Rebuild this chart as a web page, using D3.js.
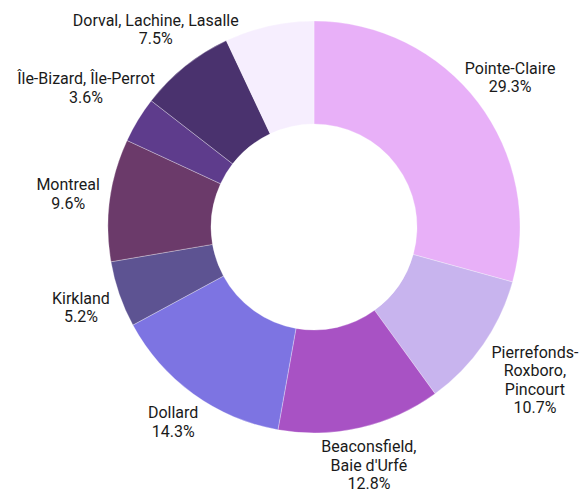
<!DOCTYPE html>
<html><head><meta charset="utf-8">
<script src="https://cdn.jsdelivr.net/npm/d3@7"></script>
<style>html,body{margin:0;padding:0;background:#fff;} svg{display:block;font-family:Roboto, "Noto Sans", sans-serif;}</style>
</head><body><svg id="chart" width="582" height="491"></svg>
<script>
const categories = ["Pointe-Claire", "Pierrefonds-\nRoxboro,\nPincourt", "Beaconsfield,\nBaie d'Urfé", "Dollard", "Kirkland", "Montreal", "Île-Bizard, Île-Perrot", "Dorval, Lachine, Lasalle", ""];
const values = [29.3, 10.7, 12.8, 14.3, 5.2, 9.6, 3.6, 7.5, 7.0];
const colors = ["#e8b0f8", "#c8b4ee", "#a852c4", "#7d74e2", "#5d5392", "#6b3a6a", "#5e3c8c", "#4a326e", "#f6eefe"];

const W = 582, H = 491;
const cx = 314, cy = 227, R = 206, r0 = 103;
const fontSize = 16, lineH = 18.4;

const svg = d3.select("#chart");
const data = categories.map((c, i) => ({name: c, value: values[i], color: colors[i]}));
const pie = d3.pie().sort(null).value(d => d.value).startAngle(0).endAngle(2 * Math.PI);
const arc = d3.arc().innerRadius(r0).outerRadius(R);
const arcs = pie(data);

const g = svg.append("g").attr("transform", `translate(${cx},${cy})`);
g.selectAll("path").data(arcs).join("path")
  .attr("d", arc)
  .attr("fill", d => d.data.color)
  .attr("stroke", "#ffffff")
  .attr("stroke-opacity", 0.5)
  .attr("stroke-width", 0.6);

const fmt = d3.format(".1f");
const lg = g.append("g").attr("font-size", fontSize).attr("fill", "#1a1a1a").attr("text-anchor", "middle");

arcs.filter(a => a.data.name !== "").forEach(a => {
  const lines = a.data.name.split("\n").concat([fmt(a.data.value) + "%"]);
  const text = lg.append("text");
  const tsp = lines.map(l => text.append("tspan").text(l));
  const widths = tsp.map(t => t.node().getComputedTextLength());
  const w = d3.max(widths), h = lines.length * lineH;
  const mid = (a.startAngle + a.endAngle) / 2;
  const ux = Math.sin(mid), uy = -Math.cos(mid);
  const t = Math.min(Math.abs(ux) > 1e-6 ? (w / 2) / Math.abs(ux) : 1e9, Math.abs(uy) > 1e-6 ? (h / 2) / Math.abs(uy) : 1e9);
  let d = R + 10 + t;
  const clear = (dd) => {
    const x = ux * dd, y = uy * dd;
    for (let i = 0; i < lines.length; i++) {
      const x0 = x - widths[i] / 2, x1 = x + widths[i] / 2;
      const y0 = y - h / 2 + i * lineH, y1 = y0 + lineH;
      const nx = Math.max(x0, Math.min(0, x1)), ny = Math.max(y0, Math.min(0, y1));
      if (Math.hypot(nx, ny) < R + 5) return false;
    }
    return true;
  };
  let k = 0;
  while (!clear(d) && k < 400) { d += 0.5; k++; }
  const x = ux * d, y = uy * d;
  tsp.forEach((s, i) => s.attr("x", x).attr("y", y - h / 2 + i * lineH + 14.5));
});
</script></body></html>
